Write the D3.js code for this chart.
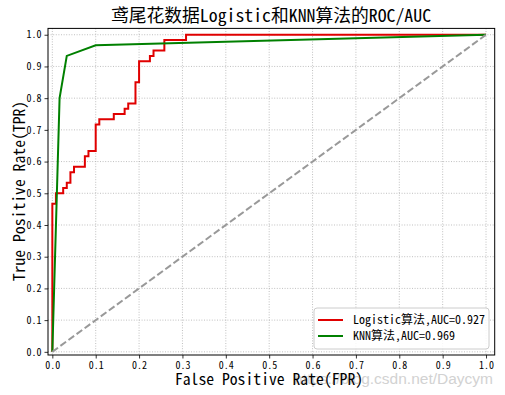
<!DOCTYPE html>
<html>
<head>
<meta charset="utf-8">
<script src="https://cdn.jsdelivr.net/npm/d3@7"></script>
<style>
  html, body { margin: 0; padding: 0; background: #fff; }
  svg { display: block; }
  text { font-family: "Noto Sans Mono CJK SC", "Noto Sans CJK SC", monospace; }
</style>
</head>
<body>
<svg id="chart" width="505" height="395"></svg>
<script>
// ---- Data ----
const titleText = "鸢尾花数据Logistic和KNN算法的ROC/AUC";
const xLabel = "False Positive Rate(FPR)";
const yLabel = "True Positive Rate(TPR)";
const tickValues = [0, 0.1, 0.2, 0.3, 0.4, 0.5, 0.6, 0.7, 0.8, 0.9, 1.0];
const tickLabels = ["0.0", "0.1", "0.2", "0.3", "0.4", "0.5", "0.6", "0.7", "0.8", "0.9", "1.0"];
const seriesNames = ["Logistic算法,AUC=0.927", "KNN算法,AUC=0.969"];
const seriesColors = ["#e00000", "#008000"];

const logisticFPR = [0, 0, 0.0083, 0.0083, 0.025, 0.025, 0.0333, 0.0333, 0.0417, 0.0417, 0.05, 0.05, 0.075, 0.075, 0.0833, 0.0833, 0.1, 0.1, 0.1083, 0.1083, 0.1417, 0.1417, 0.1667, 0.1667, 0.175, 0.175, 0.1917, 0.1917, 0.2, 0.2, 0.225, 0.225, 0.2333, 0.2333, 0.2583, 0.2583, 0.3083, 0.3083, 1.0];
const logisticTPR = [0, 0.4667, 0.4667, 0.5, 0.5, 0.5167, 0.5167, 0.5333, 0.5333, 0.5667, 0.5667, 0.5833, 0.5833, 0.6167, 0.6167, 0.6333, 0.6333, 0.7167, 0.7167, 0.7333, 0.7333, 0.75, 0.75, 0.7667, 0.7667, 0.7833, 0.7833, 0.85, 0.85, 0.9167, 0.9167, 0.9333, 0.9333, 0.95, 0.95, 0.9833, 0.9833, 1.0, 1.0];
const knnFPR = [0, 0.0167, 0.0333, 0.1, 1.0];
const knnTPR = [0, 0.8, 0.9333, 0.9667, 1.0];
const diagFPR = [0, 1];
const diagTPR = [0, 1];
const watermark = "https://blog.csdn.net/Daycym";

// ---- Layout ----
const svg = d3.select("#chart");
const mLeft = 48, mRight = 494.7, mTop = 28.4, mBottom = 355;
const x = d3.scaleLinear().domain([-0.01, 1.02]).range([mLeft, mRight]);
const y = d3.scaleLinear().domain([-0.01, 1.02]).range([mBottom, mTop]);

// grid
const grid = svg.append("g");
grid.selectAll("line.gx").data(tickValues).enter().append("line")
  .attr("x1", d => x(d)).attr("x2", d => x(d)).attr("y1", mTop).attr("y2", mBottom)
  .attr("stroke", "#b0b0b0").attr("stroke-width", 0.8).attr("stroke-dasharray", "1,1.6");
grid.selectAll("line.gy").data(tickValues).enter().append("line")
  .attr("y1", d => y(d)).attr("y2", d => y(d)).attr("x1", mLeft).attr("x2", mRight)
  .attr("stroke", "#b0b0b0").attr("stroke-width", 0.8).attr("stroke-dasharray", "1,1.6");

// axes
const xAxis = d3.axisBottom(x).tickValues(tickValues).tickFormat((d, i) => tickLabels[i]).tickSizeInner(3.5).tickSizeOuter(0).tickPadding(3);
const yAxis = d3.axisLeft(y).tickValues(tickValues).tickFormat((d, i) => tickLabels[i]).tickSizeInner(3.5).tickSizeOuter(0).tickPadding(3);
const gx = svg.append("g").attr("transform", `translate(0,${mBottom})`).call(xAxis);
const gy = svg.append("g").attr("transform", `translate(${mLeft},0)`).call(yAxis);
[gx, gy].forEach(g => {
  g.select(".domain").remove();
  g.selectAll(".tick line").attr("stroke", "#000").attr("stroke-width", 0.8);
  g.selectAll(".tick text").attr("font-size", 10).attr("fill", "#000")
    .style("font-family", '"Noto Sans Mono CJK SC", "Noto Sans CJK SC", monospace');
});

// lines
const line = d3.line().x(d => x(d[0])).y(d => y(d[1]));
const logisticPts = logisticFPR.map((v, i) => [v, logisticTPR[i]]);
const knnPts = knnFPR.map((v, i) => [v, knnTPR[i]]);
const diagPts = diagFPR.map((v, i) => [v, diagTPR[i]]);

svg.append("path").datum(logisticPts).attr("d", line)
  .attr("fill", "none").attr("stroke", seriesColors[0]).attr("stroke-width", 2);
svg.append("path").datum(knnPts).attr("d", line)
  .attr("fill", "none").attr("stroke", seriesColors[1]).attr("stroke-width", 2);
svg.append("path").datum(diagPts).attr("d", line)
  .attr("fill", "none").attr("stroke", "#999999").attr("stroke-width", 2)
  .attr("stroke-dasharray", "7,3");

// frame
svg.append("rect").attr("x", mLeft).attr("y", mTop).attr("width", mRight - mLeft).attr("height", mBottom - mTop)
  .attr("fill", "none").attr("stroke", "#000").attr("stroke-width", 1);

// legend
const lg = svg.append("g");
lg.append("rect").attr("x", 314).attr("y", 308).attr("width", 175).attr("height", 41)
  .attr("rx", 3).attr("fill", "#fff").attr("fill-opacity", 0.85)
  .attr("stroke", "#cccccc").attr("stroke-width", 1);
seriesNames.forEach((name, i) => {
  const yy = 320 + i * 16;
  lg.append("line").attr("x1", 318).attr("x2", 343).attr("y1", yy).attr("y2", yy)
    .attr("stroke", seriesColors[i]).attr("stroke-width", 2);
  lg.append("text").attr("x", 353).attr("y", yy).attr("dy", "0.35em")
    .attr("font-size", 12).attr("fill", "#000").text(name);
});

// watermark
svg.append("text").attr("x", 493).attr("y", 384).attr("text-anchor", "end")
  .style("font-family", '"Liberation Sans", Arial, sans-serif')
  .attr("font-size", 15.5).attr("fill", "#d2d2d2").text(watermark);

// labels
svg.append("text").attr("x", 271).attr("y", 22).attr("text-anchor", "middle")
  .attr("font-size", 17.8).attr("fill", "#000").text(titleText);
svg.append("text").attr("x", 269).attr("y", 385).attr("text-anchor", "middle")
  .attr("font-size", 15.7).attr("fill", "#000").text(xLabel);
svg.append("text").attr("transform", "translate(25,191) rotate(-90)").attr("text-anchor", "middle")
  .attr("font-size", 15.7).attr("fill", "#000").text(yLabel);
</script>
</body>
</html>
